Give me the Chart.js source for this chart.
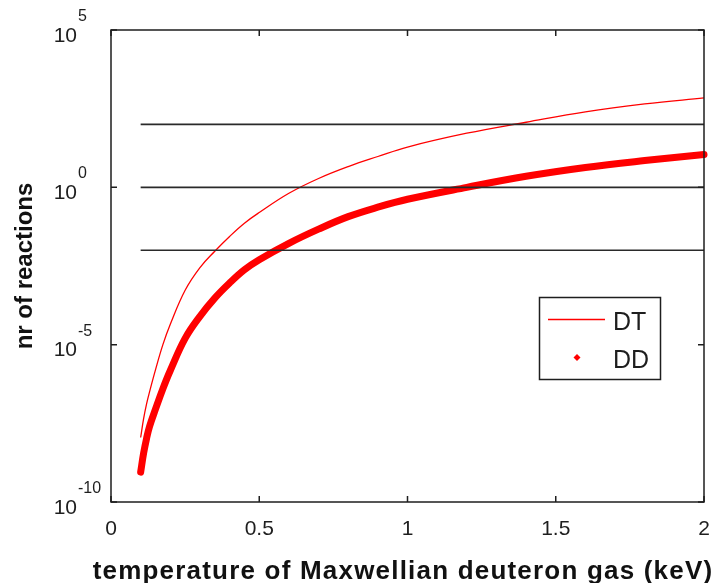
<!DOCTYPE html>
<html>
<head>
<meta charset="utf-8">
<script src="https://cdn.jsdelivr.net/npm/chart.js@4/dist/chart.umd.min.js"></script>
<style>
  html, body { margin: 0; background: #fff; }
</style>
</head>
<body>
<canvas id="chart" width="719" height="583"></canvas>
<script>
// temperature grid (keV) and reaction counts
const temperatureKeV = [0.1, 0.11, 0.12, 0.13, 0.15, 0.175, 0.2, 0.25, 0.3, 0.35, 0.4, 0.45,
                        0.5, 0.6, 0.7, 0.8, 0.9, 1.0, 1.2, 1.4, 1.6, 1.8, 2.0];
const dtReactions = [1.12e-8, 4.47e-8, 1.32e-7, 3.16e-7, 1.58e-6, 1.0e-5, 4.47e-5, 5.37e-4,
                     2.82e-3, 9.33e-3, 2.75e-2, 7.24e-2, 0.158, 0.646, 1.91, 4.57, 9.55,
                     19.1, 52.5, 117, 251, 447, 692];
const ddReactions = [8.9e-10, 3.55e-9, 1.05e-8, 2.51e-8, 8.9e-8, 3.98e-7, 1.51e-6, 1.58e-5,
                     7.94e-5, 3.02e-4, 9.12e-4, 2.4e-3, 5.01e-3, 1.66e-2, 4.68e-2, 0.117,
                     0.234, 0.417, 1.0, 2.24, 4.27, 7.08, 11.0];

// horizontal reference levels
const refLevels = [1e2, 1e0, 1e-2];
const refRange = [0.1, 2];

const xTicks = [0, 0.5, 1, 1.5, 2];
const xTickLabels = ['0', '0.5', '1', '1.5', '2'];
const yTickExponents = [-10, -5, 0, 5];

const FONT = "'Liberation Sans', Arial, Helvetica, sans-serif";
const INK = '#1e1e1e';

function pairs(xs, ys) {
    return xs.map((x, i) => ({ x: x, y: ys[i] }));
}

const datasets = [
    {
        label: 'DT',
        data: pairs(temperatureKeV, dtReactions),
        borderColor: '#ff0000',
        borderWidth: 1.3,
        pointRadius: 0,
        tension: 0.4,
        legendStyle: 'line',
        order: 2
    },
    {
        label: 'DD',
        data: pairs(temperatureKeV, ddReactions),
        borderColor: '#ff0000',
        borderWidth: 7,
        borderCapStyle: 'round',
        pointRadius: 0,
        tension: 0.4,
        clip: false,
        legendStyle: 'dot',
        order: 3
    }
];
refLevels.forEach(level => {
    datasets.push({
        label: '',
        data: [{ x: refRange[0], y: level }, { x: refRange[1], y: level }],
        borderColor: '#2a2a2a',
        borderWidth: 1.6,
        pointRadius: 0,
        order: 1
    });
});

// frame, inward ticks, tick labels, axis titles and legend box
const decorations = {
    id: 'decorations',
    afterDatasetsDraw(chart) {
        const ctx = chart.ctx;
        const area = chart.chartArea;
        const xs = chart.scales.x;
        const ys = chart.scales.y;
        ctx.save();

        ctx.strokeStyle = INK;
        ctx.lineWidth = 1.5;
        ctx.strokeRect(area.left, area.top, area.right - area.left, area.bottom - area.top);

        const tick = 6;
        ctx.beginPath();
        xTicks.forEach(v => {
            const px = xs.getPixelForValue(v);
            ctx.moveTo(px, area.bottom); ctx.lineTo(px, area.bottom - tick);
            ctx.moveTo(px, area.top); ctx.lineTo(px, area.top + tick);
        });
        yTickExponents.forEach(e => {
            const py = ys.getPixelForValue(Math.pow(10, e));
            ctx.moveTo(area.left, py); ctx.lineTo(area.left + tick, py);
            ctx.moveTo(area.right, py); ctx.lineTo(area.right - tick, py);
        });
        ctx.stroke();

        ctx.fillStyle = INK;
        ctx.font = '21px ' + FONT;
        ctx.textAlign = 'center';
        ctx.textBaseline = 'alphabetic';
        xTicks.forEach((v, i) => {
            ctx.fillText(xTickLabels[i], xs.getPixelForValue(v), area.bottom + 33);
        });

        yTickExponents.forEach(e => {
            const py = ys.getPixelForValue(Math.pow(10, e));
            ctx.font = '21px ' + FONT;
            ctx.textAlign = 'right';
            ctx.fillText('10', 77, py + 11.5);
            ctx.font = '16px ' + FONT;
            ctx.textAlign = 'left';
            ctx.fillText(String(e), 78, py - 9);
        });

        ctx.font = 'bold 26px ' + FONT;
        ctx.textAlign = 'center';
        ctx.fillStyle = '#111';
        ctx.letterSpacing = '1.2px';
        ctx.fillText('temperature of Maxwellian deuteron gas (keV)', 403, 579);
        ctx.letterSpacing = '0px';

        ctx.font = 'bold 24px ' + FONT;
        ctx.save();
        ctx.translate(32, (area.top + area.bottom) / 2);
        ctx.rotate(-Math.PI / 2);
        ctx.fillText('nr of reactions', 0, 0);
        ctx.restore();

        // legend
        const box = { left: 539.5, top: 297.5, width: 121, height: 82 };
        ctx.fillStyle = '#fff';
        ctx.fillRect(box.left, box.top, box.width, box.height);
        ctx.strokeStyle = INK;
        ctx.lineWidth = 1.5;
        ctx.strokeRect(box.left, box.top, box.width, box.height);

        ctx.font = '25px ' + FONT;
        ctx.textAlign = 'left';
        const entries = chart.data.datasets.filter(d => d.legendStyle);
        entries.forEach((d, i) => {
            const cy = box.top + 22 + i * 38;
            ctx.strokeStyle = d.borderColor;
            ctx.fillStyle = d.borderColor;
            if (d.legendStyle === 'line') {
                ctx.lineWidth = 1.3;
                ctx.beginPath();
                ctx.moveTo(548, cy); ctx.lineTo(605, cy);
                ctx.stroke();
            } else {
                ctx.beginPath();
                ctx.moveTo(577, cy - 3.5); ctx.lineTo(580.5, cy);
                ctx.lineTo(577, cy + 3.5); ctx.lineTo(573.5, cy);
                ctx.closePath();
                ctx.fill();
            }
            ctx.fillStyle = INK;
            ctx.fillText(d.label, 613, cy + 10);
        });

        ctx.restore();
    }
};

new Chart(document.getElementById('chart'), {
    type: 'line',
    data: { datasets: datasets },
    options: {
        responsive: false,
        animation: false,
        layout: { padding: { left: 111, right: 15, top: 30, bottom: 81 } },
        scales: {
            x: { type: 'linear', min: 0, max: 2, display: false },
            y: { type: 'logarithmic', min: 1e-10, max: 1e5, display: false }
        },
        plugins: {
            legend: { display: false },
            tooltip: { enabled: false }
        }
    },
    plugins: [decorations]
});
</script>
</body>
</html>
